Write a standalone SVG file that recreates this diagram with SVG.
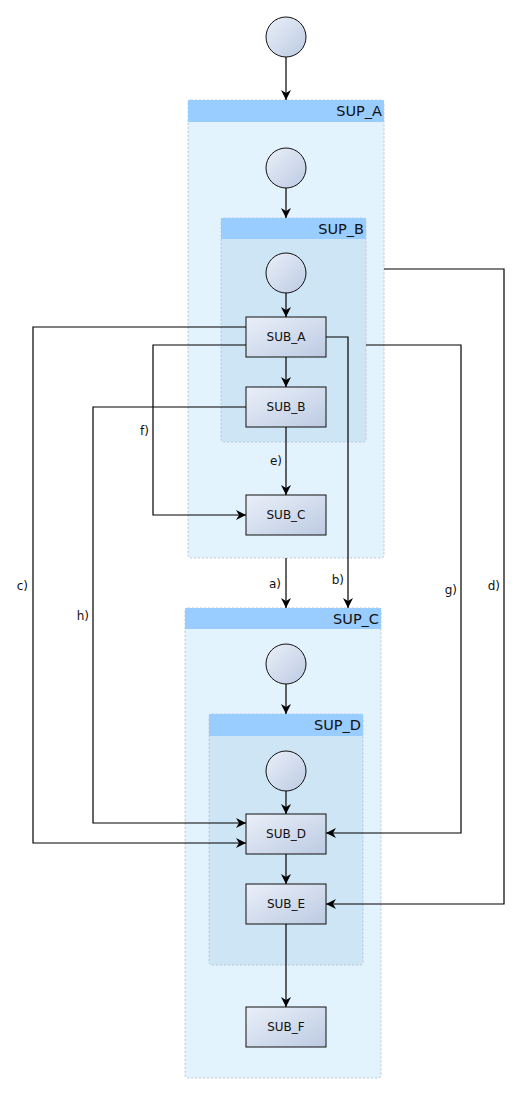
<svg xmlns="http://www.w3.org/2000/svg" width="520" height="1094" viewBox="0 0 520 1094">
<style>
.sup{fill:#e3f3fd;stroke:#b4c4d4;stroke-width:1;stroke-dasharray:2,2}
.inner{fill:#cde5f5;stroke:#b4c4d4;stroke-width:1;stroke-dasharray:2,2}
.hdr{fill:#99ccff}
.ttl{font-family:"DejaVu Sans",sans-serif;font-size:14.5px;fill:#111;text-anchor:end}
.box{fill:url(#g);stroke:#111;stroke-width:1}
.circ{fill:url(#g);stroke:#111;stroke-width:1}
.bt{font-family:"DejaVu Sans",sans-serif;font-size:12px;fill:#111;text-anchor:middle}
.lbl{font-family:"DejaVu Sans",sans-serif;font-size:12px;fill:#111;text-anchor:end}
.c{fill:none;stroke:#000;stroke-width:1.2;marker-end:url(#ah)}
</style>
<defs>
<linearGradient id="g" x1="0" y1="0" x2="1" y2="1">
<stop offset="0" stop-color="#eaf0f9"/>
<stop offset="1" stop-color="#bccae2"/>
</linearGradient>
<marker id="ah" viewBox="0 0 10 10" refX="10" refY="5" markerWidth="10" markerHeight="10" markerUnits="userSpaceOnUse" orient="auto">
<path d="M0,0 L10,5 L0,10 L3,5 z" fill="#000"/>
</marker>
</defs>
<g id="start"><circle class="circ" cx="286" cy="37" r="20"/></g>
<g id="SUP_A">
<rect class="sup" x="188" y="100" width="196" height="458" rx="3"/>
<rect class="hdr" x="188" y="100" width="196" height="22"/>
<text class="ttl" x="382" y="116">SUP_A</text>
</g>
<g id="startA"><circle class="circ" cx="286" cy="168" r="20"/></g>
<g id="SUP_B">
<rect class="inner" x="221" y="218" width="145" height="224" rx="3"/>
<rect class="hdr" x="221" y="218" width="145" height="21"/>
<text class="ttl" x="364" y="234">SUP_B</text>
</g>
<g id="startB"><circle class="circ" cx="286" cy="273" r="20"/></g>
<g id="SUB_A"><rect class="box" x="246" y="317" width="80" height="40"/><text class="bt" x="286" y="341">SUB_A</text></g>
<g id="SUB_B"><rect class="box" x="246" y="387" width="80" height="40"/><text class="bt" x="286" y="411">SUB_B</text></g>
<g id="SUB_C"><rect class="box" x="246" y="495" width="80" height="40"/><text class="bt" x="286" y="519">SUB_C</text></g>
<g id="SUP_C">
<rect class="sup" x="185" y="608" width="196" height="470" rx="3"/>
<rect class="hdr" x="185" y="608" width="196" height="21"/>
<text class="ttl" x="379" y="624">SUP_C</text>
</g>
<g id="startC"><circle class="circ" cx="286" cy="664" r="20"/></g>
<g id="SUP_D">
<rect class="inner" x="209" y="714" width="154" height="251" rx="3"/>
<rect class="hdr" x="209" y="714" width="154" height="22"/>
<text class="ttl" x="361" y="730">SUP_D</text>
</g>
<g id="startD"><circle class="circ" cx="286" cy="771" r="20"/></g>
<g id="SUB_D"><rect class="box" x="246" y="814" width="80" height="40"/><text class="bt" x="286" y="838">SUB_D</text></g>
<g id="SUB_E"><rect class="box" x="246" y="884" width="80" height="40"/><text class="bt" x="286" y="908">SUB_E</text></g>
<g id="SUB_F"><rect class="box" x="246" y="1007" width="80" height="40"/><text class="bt" x="286" y="1031">SUB_F</text></g>
<g id="connectors">
<path class="c" d="M286,57 V100"/>
<path class="c" d="M286,188 V218"/>
<path class="c" d="M286,293 V317"/>
<path class="c" d="M286,357 V387"/>
<path class="c" d="M286,427 V495"/>
<text class="lbl" x="282" y="465">e)</text>
<path class="c" d="M246,345 H153 V515 H246"/>
<text class="lbl" x="149" y="435">f)</text>
<path class="c" d="M246,327 H33 V843 H246"/>
<text class="lbl" x="28" y="590">c)</text>
<path class="c" d="M246,407 H93 V823 H246"/>
<text class="lbl" x="89" y="620">h)</text>
<path class="c" d="M326,337 H348 V608"/>
<text class="lbl" x="344" y="584">b)</text>
<path class="c" d="M286,558 V608"/>
<text class="lbl" x="281" y="588">a)</text>
<path class="c" d="M366,345 H461 V833 H326"/>
<text class="lbl" x="457" y="594">g)</text>
<path class="c" d="M384,269 H504 V904 H326"/>
<text class="lbl" x="500" y="590">d)</text>
<path class="c" d="M286,684 V714"/>
<path class="c" d="M286,791 V814"/>
<path class="c" d="M286,854 V884"/>
<path class="c" d="M286,924 V1007"/>
</g>
</svg>
